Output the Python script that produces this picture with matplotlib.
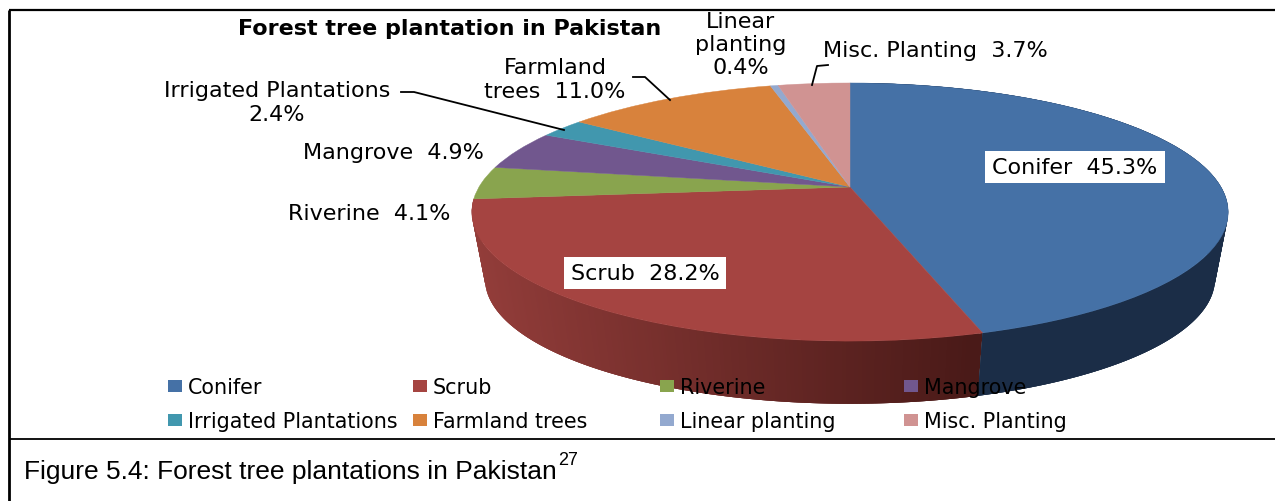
import numpy as np
import matplotlib
matplotlib.use("Agg")
import matplotlib.pyplot as plt
from matplotlib.transforms import Transform
from matplotlib.collections import PolyCollection
from matplotlib.patches import Rectangle
from matplotlib.colors import to_rgb

categories = ["Conifer", "Scrub", "Riverine", "Mangrove", "Irrigated Plantations",
              "Farmland trees", "Linear planting", "Misc. Planting"]
values = [45.3, 28.2, 4.1, 4.9, 2.4, 11.0, 0.4, 3.7]
colors = ["#4571A6", "#A54441", "#89A44E", "#71578E", "#4197AE", "#D8823C", "#93A9CF", "#D09392"]

W, H = 1275, 502
FONT = "DejaVu Sans"
LABEL_FS = 16
LEGEND_FS = 14.9


class Persp(Transform):
    """Perspective view of a unit-radius disc, output in pixel coordinates."""
    input_dims = output_dims = 2
    has_inverted = False

    def __init__(self, cx, cy, a, b, k):
        super().__init__()
        self.p = (cx, cy, a, b, k)

    def transform_non_affine(self, xy):
        cx, cy, a, b, k = self.p
        xy = np.asarray(xy, float)
        d = 1 + k * xy[:, 1]
        return np.column_stack([cx + a * xy[:, 0] / d, cy - b * xy[:, 1] / d])


top = Persp(850, 188, 371, 124.2, 0.194)
bottom = Persp(850, 256, 358, 119.9, 0.194)

fig = plt.figure(figsize=(W / 100, H / 100), dpi=100, facecolor="white")
ax = fig.add_axes([0, 0, 1, 1])

# side wall: overlapping strips, drawn from the slice's far end back to its start
edges = 90 - 3.6 * np.concatenate([[0], np.cumsum(values)])
wall_conifer = np.array(to_rgb("#1B2D47"))
left_red, right_red = np.array(to_rgb("#933D3A")), np.array(to_rgb("#4A1A18"))
for i in range(2):
    th = np.radians(np.linspace(edges[i], edges[i + 1], 200))
    ring = np.column_stack([np.cos(th), np.sin(th)])
    t, b = top.transform(ring), bottom.transform(ring)
    polys, facecols = [], []
    for j in range(len(th) - 1):
        k = min(j + 3, len(th) - 1)
        polys.append([t[j], t[k], b[k], b[j]])
        if i == 0:
            facecols.append(tuple(wall_conifer))
        else:
            f = np.clip((t[j, 0] - 473) / (980 - 473), 0, 1)
            facecols.append(tuple(left_red + (right_red - left_red) * f))
    ax.add_collection(PolyCollection(polys[::-1], facecolors=facecols[::-1], edgecolors="none",
                                     linewidths=0, zorder=1 + 0.1 * (1 - i)))

wedges, _ = ax.pie(values, colors=colors, startangle=90, counterclock=False,
                   wedgeprops=dict(linewidth=0))
for w, c in zip(wedges, colors):
    w.set_transform(top + ax.transData)
    w.set_zorder(2)
    w.set_clip_on(False)
    w.set_edgecolor(c)
    w.set_linewidth(0.3)

ax.set_aspect("auto")
ax.set_xlim(0, W)
ax.set_ylim(H, 0)
ax.axis("off")

# frame
for xs, ys, lw in [([9, 9], [11, 502], 2.0), ([9, W], [11, 11], 1.6), ([9, W], [439.5, 439.5], 1.3)]:
    ax.plot(xs, ys, color="black", lw=lw, solid_capstyle="butt", zorder=1.5, clip_on=False)

# leader lines
for xs, ys in [([401, 414, 564], [93, 93, 131]),
               ([633, 645, 670], [78, 78, 101]),
               ([828, 817, 812], [66, 67, 86])]:
    ax.plot(xs, ys, color="black", lw=1.3, zorder=3)

txt = dict(family=FONT, color="black", va="center", ha="center", zorder=5)
ax.text(450, 29, "Forest tree plantation in Pakistan", fontsize=16, fontweight="bold", **txt)
ax.text(741, 45, "Linear\nplanting\n0.4%", fontsize=LABEL_FS, linespacing=1.2, **txt)
ax.text(935, 51, "Misc. Planting  3.7%", fontsize=LABEL_FS, **txt)
ax.text(555, 80, "Farmland\ntrees  11.0%", fontsize=LABEL_FS, linespacing=1.2, **txt)
ax.text(277, 103, "Irrigated Plantations\n2.4%", fontsize=LABEL_FS, linespacing=1.2, **txt)
ax.text(393, 153, "Mangrove  4.9%", fontsize=LABEL_FS, **txt)
ax.text(369, 214, "Riverine  4.1%", fontsize=LABEL_FS, **txt)

for (x0, y0, x1, y1, s) in [(985, 152, 1165, 184, "Conifer  45.3%"), (564, 258, 726, 290, "Scrub  28.2%")]:
    ax.add_patch(Rectangle((x0, y0), x1 - x0, y1 - y0, facecolor="white", edgecolor="none", zorder=4))
    ax.text((x0 + x1) / 2, (y0 + y1) / 2, s, fontsize=LABEL_FS, **txt)

# legend
leg_x = [168, 413, 660, 904, 168, 413, 660, 904]
leg_y = [387, 387, 387, 387, 421, 421, 421, 421]
for name, col, x, y in zip(categories, colors, leg_x, leg_y):
    ax.add_patch(Rectangle((x, y - 6), 14, 12, facecolor=col, edgecolor="none", zorder=4))
    ax.text(x + 20, y + 1, name, fontsize=LEGEND_FS, family=FONT, va="center", ha="left", color="black", zorder=5)

# caption
ax.text(24, 472, "Figure 5.4: Forest tree plantations in Pakistan", family="Liberation Sans",
        fontsize=19, va="center", ha="left", color="black")
ax.text(558, 461, "27", family="Liberation Sans", fontsize=13, va="center", ha="left", color="black")

fig.savefig("out.png", dpi=100, facecolor="white")
